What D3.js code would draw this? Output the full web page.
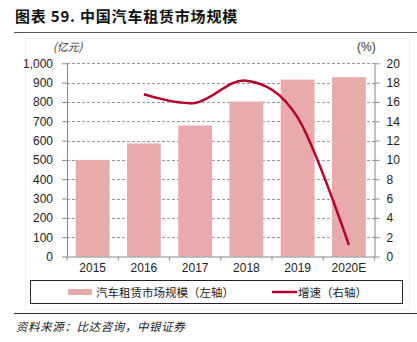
<!DOCTYPE html>
<html>
<head>
<meta charset="utf-8">
<script src="https://cdn.jsdelivr.net/npm/d3@7"></script>
<style>
  body { margin: 0; background: #fff; }
  svg { display: block; font-family: "Liberation Sans", Arial, sans-serif; }
  .tick text { font-size: 12px; fill: #222; }
  .grid line { stroke: #999; stroke-dasharray: 3,2; }
</style>
</head>
<body>
<div id="chart"></div>
<script>
var years = ["2015", "2016", "2017", "2018", "2019", "2020E"];
var marketSize = [500, 585, 678, 802, 916, 928];
var growthYears = ["2016", "2017", "2018", "2019", "2020E"];
var growth = [16.8, 15.9, 18.2, 14.4, 1.2];
var leftTicks = [0, 100, 200, 300, 400, 500, 600, 700, 800, 900, 1000];
var rightTicks = [0, 2, 4, 6, 8, 10, 12, 14, 16, 18, 20];

var width = 417, height = 342;
var plot = {left: 67, right: 374.5, top: 63.3, bottom: 256.5};

var svg = d3.select('#chart').append('svg')
    .attr('width', width)
    .attr('height', height);

// faint frame round the chart
svg.append('rect')
    .attr('x', 25.5).attr('y', 38.5)
    .attr('width', 384).attr('height', 271)
    .attr('fill', 'none').attr('stroke', '#f0f0f0');

// title
svg.append('text')
    .attr('x', 15).attr('y', 22)
    .attr('font-size', 15).attr('font-weight', 'bold')
    .attr('letter-spacing', 0.8)
    .attr('font-family', '"Noto Sans CJK SC", sans-serif')
    .attr('fill', '#111')
    .text('图表 59. 中国汽车租赁市场规模');

svg.append('line')
    .attr('x1', 14).attr('x2', 417)
    .attr('y1', 32.5).attr('y2', 32.5)
    .attr('stroke', '#555').attr('stroke-width', 1.2);

var xScale = d3.scaleBand().domain(years)
    .range([plot.left, plot.right])
    .paddingInner(0.34).paddingOuter(0.17);

var yLeft = d3.scaleLinear().domain([0, 1000])
    .range([plot.bottom, plot.top]);

var yRight = d3.scaleLinear().domain([0, 20])
    .range([plot.bottom, plot.top]);

// dashed grid
svg.append('g')
    .attr('class', 'grid')
    .selectAll('line')
    .data(leftTicks.slice(1))
    .enter()
    .append('line')
    .attr('x1', plot.left).attr('x2', plot.right)
    .attr('y1', function(d) { return Math.round(yLeft(d)) + 0.5; })
    .attr('y2', function(d) { return Math.round(yLeft(d)) + 0.5; });

// bars
svg.selectAll('rect.bar')
    .data(marketSize)
    .enter()
    .append('rect')
    .attr('class', 'bar')
    .attr('x', function(d, i) { return xScale(years[i]); })
    .attr('y', function(d) { return yLeft(d); })
    .attr('width', xScale.bandwidth())
    .attr('height', function(d) { return plot.bottom - yLeft(d); })
    .attr('fill', '#E8AAAA');

// axes
var leftAxis = d3.axisLeft(yLeft)
    .tickValues(leftTicks)
    .tickSize(5)
    .tickPadding(9)
    .tickFormat(d3.format(','));

var gl = svg.append('g')
    .attr('transform', 'translate(' + plot.left + ',0)')
    .call(leftAxis);

var rightAxis = d3.axisRight(yRight)
    .tickValues(rightTicks)
    .tickSize(5)
    .tickPadding(7);

var gr = svg.append('g')
    .attr('transform', 'translate(' + plot.right + ',0)')
    .call(rightAxis);

var bottomAxis = d3.axisBottom(xScale).tickSize(0).tickPadding(7);
var gb = svg.append('g')
    .attr('transform', 'translate(0,' + plot.bottom + ')')
    .call(bottomAxis);

// ticks between categories
svg.append('g')
    .selectAll('line')
    .data(d3.range(years.length + 1))
    .enter()
    .append('line')
    .attr('x1', function(i) { return plot.left + i * (plot.right - plot.left) / years.length; })
    .attr('x2', function(i) { return plot.left + i * (plot.right - plot.left) / years.length; })
    .attr('y1', plot.bottom).attr('y2', plot.bottom + 4)
    .attr('stroke', '#888');

[gl, gr, gb].forEach(function(g) {
    g.selectAll('.domain').attr('stroke', '#888');
    g.selectAll('.tick line').attr('stroke', '#888');
});
gl.select('.domain').attr('d', 'M0.5,' + plot.top + 'V' + plot.bottom);
gr.select('.domain').attr('d', 'M0.5,' + plot.top + 'V' + plot.bottom);
gb.select('.domain').attr('d', 'M' + plot.left + ',0.5H' + plot.right);

// growth line
var line = d3.line()
    .x(function(d, i) { return xScale(growthYears[i]) + xScale.bandwidth() / 2; })
    .y(function(d) { return yRight(d); })
    .curve(d3.curveCardinal.tension(0));

svg.append('path')
    .datum(growth)
    .attr('d', line)
    .attr('fill', 'none')
    .attr('stroke', '#B5002A')
    .attr('stroke-width', 2.5);

// unit labels
svg.append('text')
    .attr('x', 53).attr('y', 51)
    .attr('font-size', 11)
    .attr('font-family', '"Noto Sans CJK SC", sans-serif')
    .attr('font-style', 'italic')
    .attr('fill', '#333')
    .text('(亿元)');

svg.append('text')
    .attr('x', 357).attr('y', 51)
    .attr('font-size', 12)
    .attr('fill', '#333')
    .text('(%)');

// legend
svg.append('rect')
    .attr('x', 30.5).attr('y', 280.5)
    .attr('width', 372).attr('height', 23)
    .attr('fill', 'none')
    .attr('stroke', '#222');

svg.append('rect')
    .attr('x', 68).attr('y', 289)
    .attr('width', 24).attr('height', 6)
    .attr('fill', '#E8AAAA');

svg.append('text')
    .attr('x', 96).attr('y', 296.5)
    .attr('font-size', 11.5)
    .attr('font-family', '"Noto Sans CJK SC", sans-serif')
    .attr('fill', '#222')
    .text('汽车租赁市场规模（左轴）');

svg.append('line')
    .attr('x1', 272).attr('x2', 297)
    .attr('y1', 292).attr('y2', 292)
    .attr('stroke', '#B5002A').attr('stroke-width', 2.5);

svg.append('text')
    .attr('x', 298).attr('y', 296.5)
    .attr('font-size', 11.5)
    .attr('font-family', '"Noto Sans CJK SC", sans-serif')
    .attr('fill', '#222')
    .text('增速（右轴）');

// source
svg.append('line')
    .attr('x1', 14).attr('x2', 417)
    .attr('y1', 313.5).attr('y2', 313.5)
    .attr('stroke', '#333').attr('stroke-width', 1);

svg.append('text')
    .attr('x', 16).attr('y', 331)
    .attr('font-size', 11.5)
    .attr('letter-spacing', 0.6)
    .attr('font-style', 'italic')
    .attr('font-family', '"Noto Sans CJK SC", sans-serif')
    .attr('fill', '#222')
    .text('资料来源：比达咨询，中银证券');
</script>
</body>
</html>
